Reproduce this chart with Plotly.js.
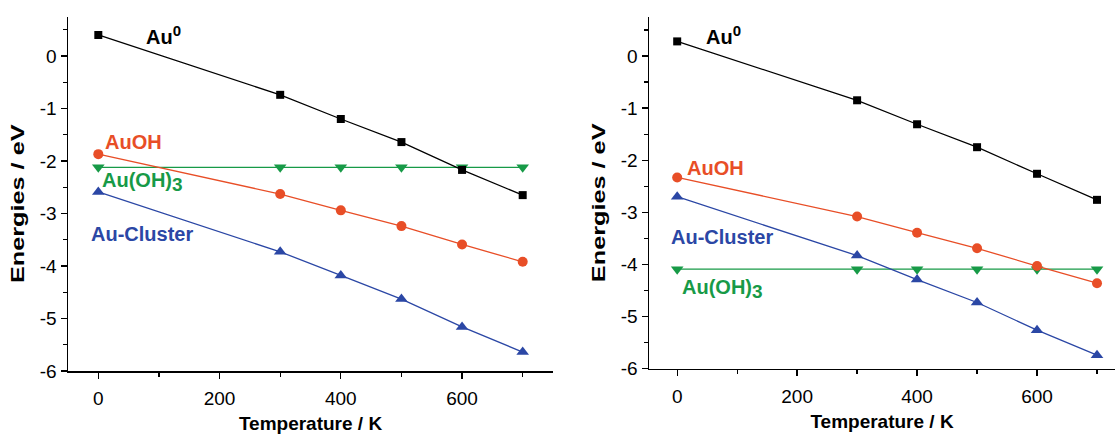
<!DOCTYPE html>
<html>
<head>
<meta charset="utf-8">
<script src="https://cdn.plot.ly/plotly-3.0.1.min.js"></script>
<style>html,body{margin:0;padding:0;background:#fff;}#chart{width:1115px;height:435px;}</style>
</head>
<body>
<div id="chart"></div>
<script>
// ---- data ----
const temperatures = [0, 300, 400, 500, 600, 700];

// left panel
const leftAu0      = [0.40, -0.74, -1.20, -1.64, -2.17, -2.65];
const leftAuOH     = [-1.87, -2.63, -2.94, -3.24, -3.59, -3.92];
const leftAuOH3    = [-2.12, -2.12, -2.12, -2.12, -2.12, -2.12];
const leftCluster  = [-2.59, -3.73, -4.18, -4.63, -5.16, -5.64];

// right panel
const rightAu0     = [0.28, -0.85, -1.31, -1.75, -2.26, -2.76];
const rightAuOH    = [-2.33, -3.08, -3.39, -3.69, -4.03, -4.36];
const rightAuOH3   = [-4.09, -4.09, -4.09, -4.09, -4.09, -4.09];
const rightCluster = [-2.70, -3.83, -4.29, -4.73, -5.26, -5.74];

// tick labels
const yTickVals  = [0, -1, -2, -3, -4, -5, -6];
const yTickText  = ['0', '-1', '-2', '-3', '-4', '-5', '-6'];
const xTickVals  = [0, 200, 400, 600];
const xTickText  = ['0', '200', '400', '600'];

// series labels
const labelAu0 = 'Au<sup><span style="font-size:15px">0</span></sup>';
const labelAuOH = 'AuOH';
const labelAuOH3 = 'Au(OH)<sub><span style="font-size:19px">3</span></sub>';
const labelCluster = 'Au-Cluster';

// ---- styling ----
const C_BLACK = '#000000';
const C_RED = '#e84e27';
const C_GREEN = '#179a47';
const C_BLUE = '#2b47a5';
const FONT = 'Liberation Sans, Arial, sans-serif';

function series(y, color, symbol, size, xa, ya) {
  return {
    x: temperatures, y: y, xaxis: xa, yaxis: ya,
    type: 'scatter', mode: 'lines+markers',
    line: {color: color, width: 1.3},
    marker: {color: color, symbol: symbol, size: size},
    showlegend: false, hoverinfo: 'skip', cliponaxis: false
  };
}

const traces = [
  series(leftAuOH3, C_GREEN, 'triangle-down', 11, 'x', 'y'),
  series(leftAu0, C_BLACK, 'square', 8, 'x', 'y'),
  series(leftAuOH, C_RED, 'circle', 10, 'x', 'y'),
  series(leftCluster, C_BLUE, 'triangle-up', 11, 'x', 'y'),
  series(rightAuOH3, C_GREEN, 'triangle-down', 11, 'x2', 'y2'),
  series(rightAu0, C_BLACK, 'square', 8, 'x2', 'y2'),
  series(rightAuOH, C_RED, 'circle', 10, 'x2', 'y2'),
  series(rightCluster, C_BLUE, 'triangle-up', 11, 'x2', 'y2')
];

function xAxis(domain, range, anchor) {
  return {
    domain: domain, range: range, anchor: anchor,
    showline: true, linecolor: '#000', linewidth: 1.5, mirror: false,
    showgrid: false, zeroline: false,
    tickmode: 'array', tickvals: xTickVals, ticktext: xTickText,
    ticks: 'outside', ticklen: 6, tickwidth: 1.3, tickcolor: '#000',
    ticklabelstandoff: 4,
    minor: {ticks: 'outside', ticklen: 4, tickwidth: 1.3, tickcolor: '#000', tick0: 0, dtick: 100, showgrid: false},
    tickfont: {family: FONT, size: 19, color: '#000'},
    title: {text: 'Temperature / K', font: {family: FONT, size: 19, color: '#000', weight: 'bold'}, standoff: 8},
    fixedrange: true
  };
}
function yAxis(domain, range, anchor) {
  return {
    domain: domain, range: range, anchor: anchor,
    showline: true, linecolor: '#000', linewidth: 1.5, mirror: false,
    showgrid: false, zeroline: false,
    tickmode: 'array', tickvals: yTickVals, ticktext: yTickText,
    ticks: 'outside', ticklen: 6, tickwidth: 1.3, tickcolor: '#000',
    minor: {ticks: 'outside', ticklen: 4, tickwidth: 1.3, tickcolor: '#000', tick0: 0, dtick: 0.5, showgrid: false},
    tickfont: {family: FONT, size: 19, color: '#000'},
    title: {text: 'Energies / eV', font: {family: FONT, size: 19, color: '#000', weight: 'bold'}, standoff: 10},
    fixedrange: true
  };
}

function label(text, x, y, color, xref, yref) {
  return {
    text: text, x: x, y: y, xref: xref, yref: yref,
    xanchor: 'left', yanchor: 'middle', showarrow: false,
    font: {family: FONT, size: 20, color: color, weight: 'bold'}
  };
}

const W = 1115, H = 435;
const layout = {
  width: W, height: H,
  margin: {l: 0, r: 0, t: 0, b: 0},
  paper_bgcolor: '#fff', plot_bgcolor: 'rgba(0,0,0,0)',
  showlegend: false,
  xaxis: xAxis([68 / W, 553 / W], [-50, 750], 'y'),
  yaxis: yAxis([(H - 371) / H, (H - 16.6) / H], [-6, 0.75], 'x'),
  xaxis2: xAxis([649 / W, 1], [-47, 730], 'y2'),
  yaxis2: yAxis([(H - 368.7) / H, (H - 16.9) / H], [-6, 0.75], 'x2'),
  annotations: [
    label(labelAu0, 75, 0.40, C_BLACK, 'x', 'y'),
    label(labelAuOH, 7, -1.64, C_RED, 'x', 'y'),
    label(labelAuOH3, 3, -2.40, C_GREEN, 'x', 'y'),
    label(labelCluster, -15, -3.39, C_BLUE, 'x', 'y'),
    label(labelAu0, 44, 0.40, C_BLACK, 'x2', 'y2'),
    label(labelAuOH, 13, -2.14, C_RED, 'x2', 'y2'),
    label(labelCluster, -13, -3.48, C_BLUE, 'x2', 'y2'),
    label(labelAuOH3, 4.5, -4.48, C_GREEN, 'x2', 'y2')
  ]
};

Plotly.newPlot('chart', traces, layout, {displayModeBar: false, staticPlot: true}).then(function (gd) {
  // the reference's vertical axis titles are drawn stretched along their length
  gd.querySelectorAll('.g-ytitle text, .g-y2title text').forEach(function (t) {
    const x = parseFloat(t.getAttribute('x'));
    const y = parseFloat(t.getAttribute('y'));
    const rot = t.getAttribute('transform') || '';
    t.setAttribute('transform',
      'translate(0,10) translate(' + x + ',' + y + ') scale(1,1.33) translate(' + (-x) + ',' + (-y) + ') ' + rot);
  });
});
</script>
</body>
</html>
